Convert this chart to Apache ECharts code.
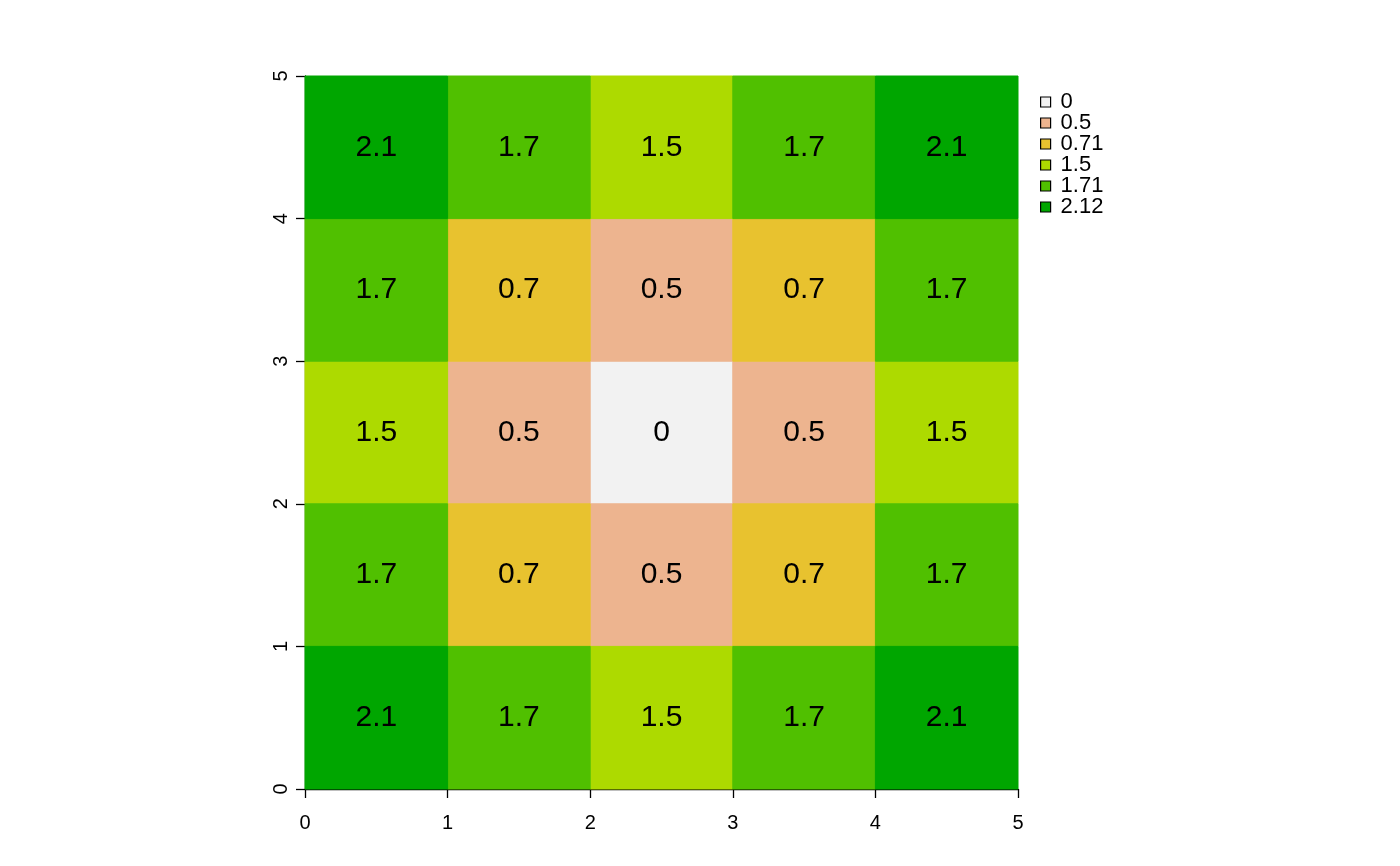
<!DOCTYPE html>
<html>
<head>
<meta charset="utf-8">
<script src="https://cdn.jsdelivr.net/npm/echarts@6/dist/echarts.min.js"></script>
<style>
  html, body { margin: 0; padding: 0; background: #fff; }
  #chart { width: 1400px; height: 866px; }
</style>
</head>
<body>
<div id="chart"></div>
<script>
// classes shown in the legend, with the rounded label drawn in each cell
var classValues = [0, 0.5, 0.71, 1.5, 1.71, 2.12];
var classLabels = ['0', '0.5', '0.7', '1.5', '1.7', '2.1'];
var classColors = ['#F2F2F2', '#EDB48F', '#E8C22F', '#ADDA00', '#50C000', '#00A600'];

// cell values, rows listed from bottom (y 0-1) to top (y 4-5)
var gridRows = [
  [2.12, 1.71, 1.5, 1.71, 2.12],
  [1.71, 0.71, 0.5, 0.71, 1.71],
  [1.5, 0.5, 0, 0.5, 1.5],
  [1.71, 0.71, 0.5, 0.71, 1.71],
  [2.12, 1.71, 1.5, 1.71, 2.12]
];
var axisTicks = [0, 1, 2, 3, 4, 5];

var chart = echarts.init(document.getElementById('chart'));

// one custom series per class so the legend gets its own entry
var series = classValues.map(function (v, k) {
  var pts = [];
  gridRows.forEach(function (row, y) {
    row.forEach(function (cell, x) {
      if (cell === v) pts.push([x, y]);
    });
  });
  return {
    name: String(v),
    type: 'custom',
    itemStyle: { color: classColors[k], borderColor: '#000', borderWidth: 1 },
    data: pts,
    renderItem: function (params, api) {
      var x = api.value(0), y = api.value(1);
      var p0 = api.coord([x, y + 1]);
      var p1 = api.coord([x + 1, y]);
      return {
        type: 'rect',
        shape: { x: p0[0], y: p0[1], width: p1[0] - p0[0], height: p1[1] - p0[1] },
        style: { fill: classColors[k], stroke: classColors[k], lineWidth: 1 },
        textContent: {
          style: {
            text: classLabels[k],
            fontSize: 30,
            fontFamily: 'Liberation Sans, Arial, sans-serif',
            fill: '#000'
          }
        },
        textConfig: { position: 'inside' }
      };
    }
  };
});

var axisCommon = {
  type: 'value',
  min: 0,
  max: 5,
  interval: 1,
  axisLine: { show: true, lineStyle: { color: '#000', width: 1.3 } },
  axisTick: { show: true, inside: false, length: 9, lineStyle: { color: '#000', width: 1.3 } },
  splitLine: { show: false },
  axisLabel: {
    color: '#000',
    fontSize: 20,
    fontFamily: 'Liberation Sans, Arial, sans-serif',
    margin: 24,
    formatter: function (v) { return axisTicks.indexOf(v) >= 0 ? String(v) : ''; }
  }
};

var option = {
  animation: false,
  grid: { left: 305, top: 76, right: 382, bottom: 77 },
  xAxis: echarts.util.merge({}, axisCommon),
  yAxis: echarts.util.merge({ axisLabel: { rotate: 90, margin: 14 } }, axisCommon),
  legend: {
    orient: 'vertical',
    left: 1035,
    top: 86,
    icon: 'rect',
    itemWidth: 10,
    itemHeight: 10,
    itemGap: -1,
    selectedMode: false,
    itemStyle: { borderColor: '#000', borderWidth: 1.2 },
    textStyle: {
      fontSize: 22,
      color: '#000',
      fontFamily: 'Liberation Sans, Arial, sans-serif',
      padding: [0, 0, 0, 5]
    },
    data: classValues.map(String)
  },
  series: series
};

chart.setOption(option);
</script>
</body>
</html>
